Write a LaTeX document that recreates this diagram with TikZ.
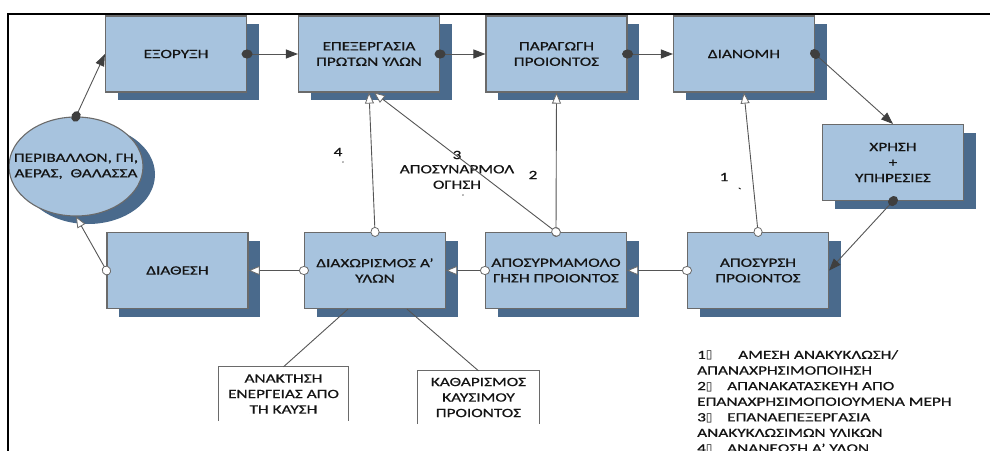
\documentclass[tikz,border=0pt]{standalone}
\usepackage{fontspec}
\setmainfont[FakeStretch=1.37,FakeBold=0.6]{Carlito}
\newfontfamily\glyphfont{DejaVu Sans}
\usetikzlibrary{arrows.meta,shapes.geometric,shadows}

\definecolor{boxblue}{HTML}{A7C3DE}
\definecolor{shadeblue}{HTML}{4A6A8C}
\definecolor{edgegray}{HTML}{6A6A6A}
\definecolor{linegray}{HTML}{555555}
\definecolor{dotgray}{HTML}{3F3F3F}
\definecolor{inkgray}{HTML}{141414}

% placeholder box printed for a missing glyph
\newcommand\tofu{{\glyphfont\fontsize{12}{12}\selectfont ▯}}

\tikzset{
  stage/.style={rectangle, draw=edgegray, line width=1.1pt, fill=boxblue,
    minimum width=141pt, minimum height=76pt, inner sep=2pt, align=center,
    text=inkgray,
    drop shadow={shadow xshift=12pt, shadow yshift=-8pt, fill=shadeblue, opacity=1}},
  world/.style={ellipse, draw=edgegray, line width=1.1pt, fill=boxblue,
    minimum width=134pt, minimum height=99pt, inner sep=0pt,
    text=inkgray,
    drop shadow={shadow xshift=12pt, shadow yshift=-8pt, fill=shadeblue, opacity=1}},
  outlet/.style={rectangle, inner sep=0pt, align=center, text=inkgray},
  forward/.style={draw=linegray, line width=0.9pt, shorten <=-5.5pt,
    {Circle[length=11pt,width=9pt,fill=dotgray,color=dotgray]}-{Triangle[length=12pt,width=9pt,fill=dotgray,color=dotgray]}},
  backward/.style={draw=linegray, line width=0.9pt, shorten <=-5pt,
    {Circle[length=10pt,width=9pt,fill=white,color=edgegray,line width=0.8pt]}-{Triangle[length=11pt,width=9pt,fill=white,color=edgegray,line width=0.8pt]}},
  plainlink/.style={draw=linegray, line width=0.9pt},
  tag/.style={inner sep=0pt, text=inkgray, align=center},
}

\begin{document}
\begin{tikzpicture}[x=1pt, y=-1pt, font=\fontsize{12.6}{15.5}\selectfont]
\useasboundingbox (0,0) rectangle (990,450);
\clip (0,0) rectangle (990,450);

% upper chain
\node[stage] (exor)  at (176,54)    {ΕΞΟΡΥΞΗ};
\node[stage] (epex)  at (369,54)    {ΕΠΕΞΕΡΓΑΣΙΑ\\ΠΡΩΤΩΝ ΥΛΩΝ};
\node[stage] (parag) at (556.5,54)  {ΠΑΡΑΓΩΓΗ\\ΠΡΟΙΟΝΤΟΣ};
\node[stage] (dian)  at (744,54)    {ΔΙΑΝΟΜΗ};
\node[stage] (xrisi) at (893,162.5) {ΧΡΗΣΗ\\+\\ΥΠΗΡΕΣΙΕΣ};

% lower chain
\node[stage] (diath)   at (177.5,270.5) {ΔΙΑΘΕΣΗ};
\node[stage] (diax)    at (375,270.5)   {ΔΙΑΧΩΡΙΣΜΟΣ Α’\\ΥΛΩΝ};
\node[stage] (aposyrm) at (556,270.5)   {ΑΠΟΣΥΡΜΑΜΟΛΟ\\ΓΗΣΗ ΠΡΟΙΟΝΤΟΣ};
\node[stage] (aposyr)  at (758,270.5)   {ΑΠΟΣΥΡΣΗ\\ΠΡΟΙΟΝΤΟΣ};

% environment (text kept zero-width so the ellipse keeps its set size)
\node[world] (env) at (76,166.5)
  {\makebox[0pt]{\begin{tabular}{@{}c@{}}ΠΕΡΙΒΑΛΛΟΝ, ΓΗ,\\ΑΕΡΑΣ,\ \ ΘΑΛΑΣΣΑ\end{tabular}}};

% end-of-life outlets (open at the bottom)
\node[outlet, minimum width=129pt, minimum height=54pt] (energy) at (283.5,394) {ΑΝΑΚΤΗΣΗ\\ΕΝΕΡΓΕΙΑΣ ΑΠΌ\\ΤΗ ΚΑΥΣΗ};
\node[outlet, minimum width=121pt, minimum height=53pt] (fuel) at (478.5,397.5) {ΚΑΘΑΡΙΣΜΟΣ\\ΚΑΥΣΙΜΟΥ\\ΠΡΟΙΟΝΤΟΣ};
\draw[edgegray, line width=1pt] (energy.south west) -- (energy.north west) -- (energy.north east) -- (energy.south east);
\draw[edgegray, line width=1pt] (fuel.south west) -- (fuel.north west) -- (fuel.north east) -- (fuel.south east);

% loop labels
\node[tag] (n4) at (338,152) {4};
\node[tag] (n4m) at (343,162) {\fontsize{7}{7}\selectfont .};
\node[tag] (n3) at (457,155) {3};
\node[tag] (n3t) at (457,177) {ΑΠΟΣΥΝΑΡΜΟΛ\\ΟΓΗΣΗ};
\node[tag] (n3m) at (463,195) {\fontsize{7}{7}\selectfont .};
\node[tag] (n2) at (533,175) {2};
\node[tag] (n1) at (724,177) {1};
\node[tag] (n1m) at (739,191) {\fontsize{9}{9}\selectfont\textasciigrave};

% legend
\node[anchor=north west, inner sep=0pt, align=left, text=inkgray,
      font=\fontsize{12.6}{15.6}\selectfont] (legend) at (697,350)
  {\makebox[41pt][l]{1\tofu}ΑΜΕΣΗ ΑΝΑΚΥΚΛΩΣΗ/\\
   ΑΠΑΝΑΧΡΗΣΙΜΟΠΟΙΗΣΗ\\
   \makebox[30pt][l]{2\tofu}ΑΠΑΝΑΚΑΤΑΣΚΕΥΗ ΑΠΌ\\
   ΕΠΑΝΑΧΡΗΣΙΜΟΠΟΙΟΥΜΕΝΑ ΜΕΡΗ\\
   \makebox[30pt][l]{3\tofu}ΕΠΑΝΑΕΠΕΞΕΡΓΑΣΙΑ\\
   ΑΝΑΚΥΚΛΩΣΙΜΩΝ ΥΛΙΚΩΝ\\
   \makebox[30pt][l]{4\tofu}ΑΝΑΝΕΩΣΗ Α’ ΥΛΩΝ};

% forward flow
\draw[forward] (env.north) -- (exor.west);
\draw[forward] (exor.east) -- (epex.west);
\draw[forward] (epex.east) -- (parag.west);
\draw[forward] (parag.east) -- (dian.west);
\draw[forward] (dian.east) -- (xrisi.north);
\draw[forward] (xrisi.south) -- (aposyr.east);

% return flow
\draw[backward] (aposyr.west) -- (aposyrm.east);
\draw[backward] (aposyrm.west) -- (diax.east);
\draw[backward] (diax.west) -- (diath.east);
\draw[backward] (diath.west) -- (env.south);
\draw[backward] (aposyr.north) -- (dian.south);
\draw[backward] (aposyrm.north) -- (parag.south);
\draw[backward] (aposyrm.north) -- ([xshift=5pt]epex.south);
\draw[backward] (diax.north) -- (epex.south);

% separation outlets
\draw[plainlink] ([xshift=-27pt]diax.south) -- (energy.north);
\draw[plainlink] ([xshift=32pt]diax.south) -- (fuel.north);

% frame
\draw[black, line width=2pt] (8,451) -- (8,14) -- (991,14);
\end{tikzpicture}
\end{document}
